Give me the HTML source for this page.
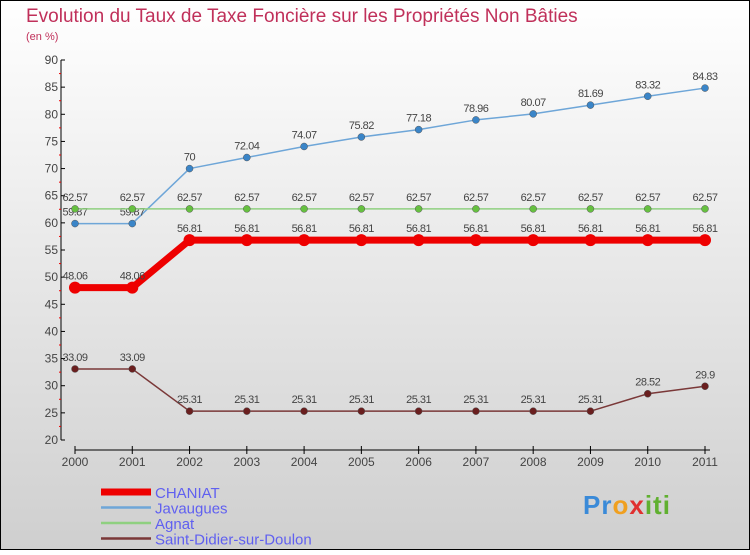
<!DOCTYPE html>
<html><head><meta charset="utf-8"><style>
html,body{margin:0;padding:0}
body{width:750px;height:550px;overflow:hidden;font-family:"Liberation Sans",sans-serif}
svg text{font-family:"Liberation Sans",sans-serif}
</style></head><body>
<svg id="chart" width="750" height="550" xmlns="http://www.w3.org/2000/svg">
<defs><linearGradient id="bg" x1="0" y1="0" x2="0" y2="1"><stop offset="0" stop-color="#ffffff"/><stop offset="1" stop-color="#cfcfcf"/></linearGradient></defs>
<rect x="0.5" y="0.5" width="749" height="549" fill="url(#bg)" stroke="#000"/>
<text x="26" y="22" font-size="19" fill="#c0305a">Evolution du Taux de Taxe Foncière sur les Propriétés Non Bâties</text>
<text x="26" y="40" font-size="11" fill="#c0305a">(en %)</text>
<g id="axes"></g><g id="series"></g><g id="legend"></g>
</svg>
<script>
const years=[2000,2001,2002,2003,2004,2005,2006,2007,2008,2009,2010,2011];
const yTicks=[20,25,30,35,40,45,50,55,60,65,70,75,80,85,90];
const seriesNames=["CHANIAT","Javaugues","Agnat","Saint-Didier-sur-Doulon"];
const chaniat=[48.06,48.06,56.81,56.81,56.81,56.81,56.81,56.81,56.81,56.81,56.81,56.81];
const javaugues=[59.87,59.87,70,72.04,74.07,75.82,77.18,78.96,80.07,81.69,83.32,84.83];
const agnat=[62.57,62.57,62.57,62.57,62.57,62.57,62.57,62.57,62.57,62.57,62.57,62.57];
const stdidier=[33.09,33.09,25.31,25.31,25.31,25.31,25.31,25.31,25.31,25.31,28.52,29.9];

const NS="http://www.w3.org/2000/svg";
const X=i=>75+i*(630/11);
const Y=v=>440-(v-20)*(380/70);
function mk(tag,attrs,parent,txt){const e=document.createElementNS(NS,tag);for(const k in attrs)e.setAttribute(k,attrs[k]);if(txt!==undefined)e.textContent=txt;parent.appendChild(e);return e;}
const axes=document.getElementById('axes'),ser=document.getElementById('series'),leg=document.getElementById('legend');
let a=mk('line',{x1:61,y1:60,x2:61,y2:440,stroke:'#000'},axes);


yTicks.forEach(v=>{
  let t=mk('line',{x1:61,y1:Y(v),x2:65,y2:Y(v),stroke:'#000'},axes);
  
  
  let l=mk('text',{x:58,y:Y(v)+4,'font-size':12,fill:'#444','text-anchor':'end'},axes,String(v));
  
  
  if(v<90){let m=mk('line',{x1:59,y1:Y(v+2.5),x2:61,y2:Y(v+2.5),stroke:'#e00'},axes);
  
  }
});
let xa=mk('line',{x1:75,y1:450,x2:710,y2:450,stroke:'#000'},axes);


years.forEach((yr,i)=>{
  let t=mk('line',{x1:X(i),y1:446,x2:X(i),y2:454,stroke:'#000'},axes);
  
  
  let l=mk('text',{x:X(i),y:466,'font-size':12,fill:'#444','text-anchor':'middle'},axes,String(yr));
  
  
});
const styles=[
 {data:chaniat,color:'#ee0000',w:7,r:6,pt:'#ee0000',name:'chaniat'},
 {data:javaugues,color:'#6ea6d8',w:1.5,r:3.5,pt:'#3a85c8',name:'javaugues'},
 {data:agnat,color:'#8fd080',w:1.5,r:3.5,pt:'#66c040',name:'agnat'},
 {data:stdidier,color:'#7a3838',w:1.5,r:3.5,pt:'#6a1f1f',name:'saint-didier'}];
styles.forEach(s=>{
  const g=mk('g',{},ser);
  
  
  const p=mk('polyline',{points:s.data.map((v,i)=>X(i)+','+Y(v)).join(' '),fill:'none',stroke:s.color,'stroke-width':s.w,'stroke-linejoin':'round'},g);
  
  
  s.data.forEach((v,i)=>{
    const c=mk('circle',{cx:X(i),cy:Y(v),r:s.r,fill:s.pt,stroke:s.name==='chaniat'?'none':'#555','stroke-width':0.5},g);
    
    
    const t=mk('text',{x:X(i),y:Y(v)-8,'font-size':11,fill:'#444','text-anchor':'middle','letter-spacing':'-0.5'},g,String(v));
    
    
  });
});
styles.forEach((s,k)=>{
  const y=492+k*15.5;
  const l=mk('line',{x1:101,y1:y,x2:151,y2:y,stroke:s.color,'stroke-width':k===0?7:2.5},leg);
  
  
  const t=mk('text',{x:155,y:y+6,'font-size':15,fill:'#6060f0'},leg,seriesNames[k]);
  
  
});
</script>
<div style="position:absolute;left:583px;top:490px;font:bold 26px 'Liberation Sans',sans-serif;letter-spacing:1px"><span style="color:#3a8ad8">Pr</span><span style="color:#f0a020">o</span><span style="color:#e03030">x</span><span style="color:#60b030">iti</span></div>
</body></html>
